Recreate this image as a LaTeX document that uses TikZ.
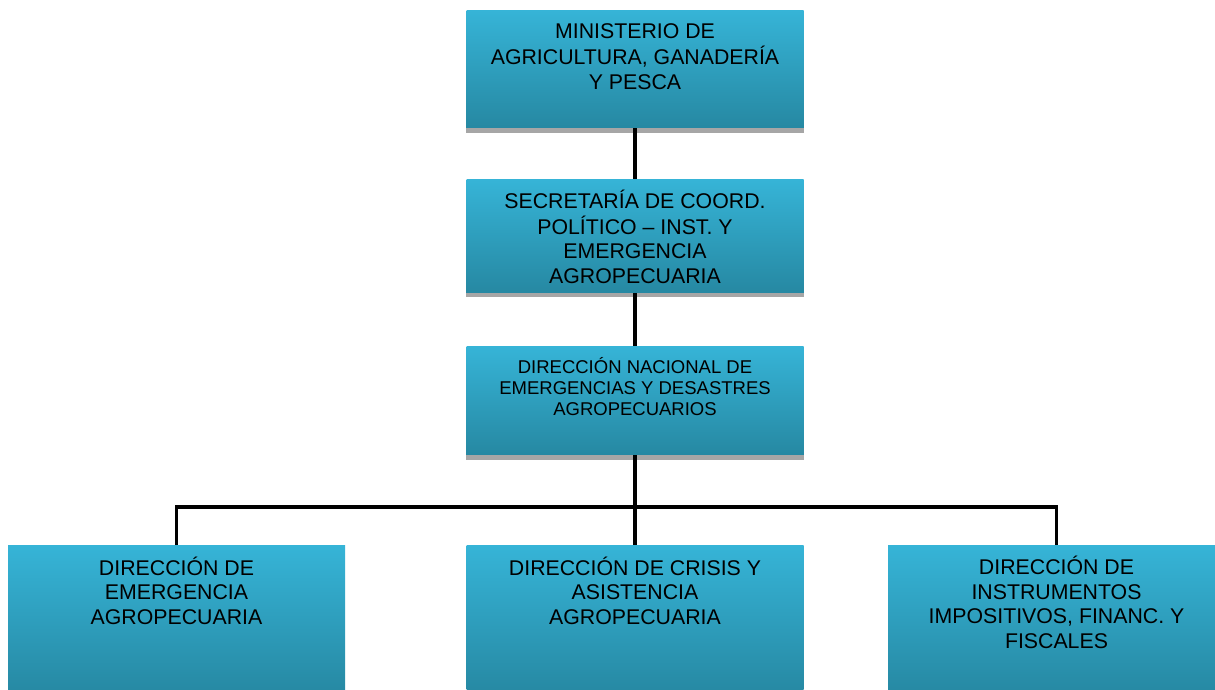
\documentclass[tikz,border=0pt]{standalone}
\usepackage{fontspec}
\setmainfont{Liberation Sans}
\definecolor{boxtop}{RGB}{54,180,215}
\definecolor{boxbot}{RGB}{38,136,162}
\definecolor{band}{RGB}{166,166,166}
\newcommand{\bigtxt}[1]{\fontsize{21.3}{24.5}\selectfont\setlength{\tabcolsep}{0pt}\begin{tabular}[t]{c}#1\end{tabular}}
\newcommand{\smalltxt}[1]{\fontsize{18.5}{21.3}\selectfont\setlength{\tabcolsep}{0pt}\begin{tabular}[t]{c}#1\end{tabular}}
\tikzset{
  orgbox/.style={rectangle, inner sep=0pt, minimum width=337pt, anchor=north,
    top color=boxtop, bottom color=boxbot, draw=none},
  orgtext/.style={anchor=base, inner sep=0pt, text=black},
  conn/.style={draw=black, line width=3.5pt}
}
\begin{document}
\begin{tikzpicture}[x=1pt,y=-1pt]
\useasboundingbox (0,0) rectangle (1215,690);
\clip (0,0) rectangle (1215,690);
% boxes
\node[orgbox, minimum height=118pt] (b1) at (635,10) {};
\node[orgbox, minimum height=114pt] (b2) at (635,179) {};
\node[orgbox, minimum height=109pt] (b3) at (635,346) {};
\node[orgbox, minimum height=150pt] (b4) at (176.5,545) {};
\node[orgbox, minimum height=150pt] (b5) at (635,545) {};
\node[orgbox, minimum height=150pt] (b6) at (1056.5,545) {};
% grey bottom bands
\fill[band] (b1.south west) rectangle ([yshift=-5pt]b1.south east);
\fill[band] (b2.south west) rectangle ([yshift=-4pt]b2.south east);
\fill[band] (b3.south west) rectangle ([yshift=-5pt]b3.south east);
% texts
\node[orgtext] (t1) at ([yshift=-29pt]b1.north) {\bigtxt{MINISTERIO DE\\AGRICULTURA, GANADERÍA\\Y PESCA}};
\node[orgtext] (t2) at ([yshift=-29.5pt]b2.north) {\bigtxt{SECRETARÍA DE COORD.\\POLÍTICO – INST. Y\\EMERGENCIA\\AGROPECUARIA}};
\node[orgtext] (t3) at ([yshift=-27.3pt]b3.north) {\smalltxt{DIRECCIÓN NACIONAL DE\\EMERGENCIAS Y DESASTRES\\AGROPECUARIOS}};
\node[orgtext] (t4) at ([yshift=-30pt]b4.north) {\bigtxt{DIRECCIÓN DE\\EMERGENCIA\\AGROPECUARIA}};
\node[orgtext] (t5) at ([yshift=-30pt]b5.north) {\bigtxt{DIRECCIÓN DE CRISIS Y\\ASISTENCIA\\AGROPECUARIA}};
\node[orgtext] (t6) at ([yshift=-29.5pt]b6.north) {\bigtxt{DIRECCIÓN DE\\INSTRUMENTOS\\IMPOSITIVOS, FINANC. Y\\FISCALES}};
% connectors
\coordinate (bus) at (635,507);
\draw[conn] (b1.south) -- (b2.north);
\draw[conn] (b2.south) -- (b3.north);
\draw[conn] (b3.south) -- (b5.north);
\draw[conn] (b4.north) |- (bus) -| (b6.north);
\end{tikzpicture}
\end{document}
